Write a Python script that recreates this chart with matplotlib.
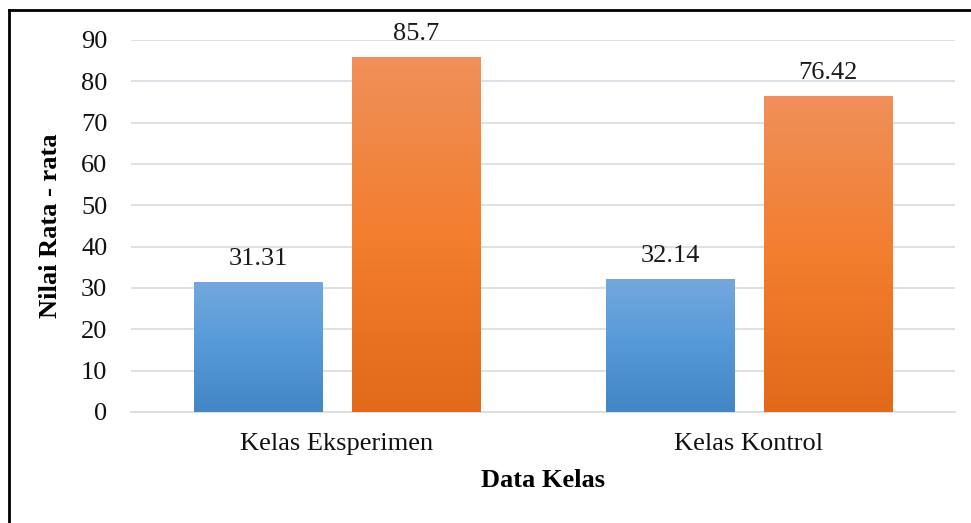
import numpy as np
import matplotlib
matplotlib.use("Agg")
import matplotlib.pyplot as plt
from matplotlib.colors import LinearSegmentedColormap
from matplotlib.lines import Line2D

categories = ["Kelas Eksperimen", "Kelas Kontrol"]
series_a = [31.31, 32.14]
series_b = [85.7, 76.42]
yticks = [0, 10, 20, 30, 40, 50, 60, 70, 80, 90]

plt.rcParams['font.family'] = ['Liberation Serif', 'DejaVu Serif']
FS = 19

fig = plt.figure(figsize=(9.71, 5.23), dpi=100)
ax = fig.add_axes([131/971, 1 - 412/523, (955-131)/971, (412-40)/523])

x = np.arange(len(categories))
w = 0.311
off = 0.192

blue_cmap = LinearSegmentedColormap.from_list("b", ["#4386C6", "#5599D9", "#74A8DD"])
orange_cmap = LinearSegmentedColormap.from_list("o", ["#E2691A", "#F37E2E", "#F0905A"])

grad = np.linspace(0, 1, 256).reshape(-1, 1)

def draw(xs, vals, cmap):
    bars = ax.bar(xs, vals, width=w, color="none", edgecolor="none", zorder=3)
    for b, v in zip(bars, vals):
        x0 = b.get_x()
        x1 = x0 + b.get_width()
        ax.imshow(grad, cmap=cmap, origin="lower", aspect="auto",
                  extent=[x0, x1, 0, v], zorder=3, interpolation="bicubic")
        ax.annotate(f"{v:g}", (b.get_x() + b.get_width()/2, v),
                    xytext=(0, 9), textcoords="offset points",
                    ha="center", va="bottom", fontsize=FS, color="#1a1a1a")

draw(x - off, series_a, blue_cmap)
draw(x + off, series_b, orange_cmap)

ax.set_xlim(-0.5, 1.5)
ax.set_ylim(0, 90)
ax.set_yticks(yticks)
ax.set_xticks(x)
ax.set_xticklabels(categories)
ax.grid(axis="y", color="#D9DEE6", linewidth=1.3, zorder=0)
ax.set_axisbelow(True)
for s in ["top", "right", "left"]:
    ax.spines[s].set_visible(False)
ax.spines["bottom"].set_color("#D9DEE6")
ax.spines["bottom"].set_linewidth(1.3)
ax.tick_params(axis="both", length=0, labelsize=FS, colors="#111111")
ax.tick_params(axis="y", pad=17)
ax.tick_params(axis="x", pad=15)
ax.set_ylabel("Nilai Rata - rata", fontsize=FS, fontweight="bold", labelpad=14)
ax.set_xlabel("Data Kelas", fontsize=FS, fontweight="bold", labelpad=10)

fig.add_artist(Line2D([9/971, 9/971], [0, 1 - 10/523], transform=fig.transFigure, color="black", linewidth=2))
fig.add_artist(Line2D([9/971, 1], [1 - 10/523, 1 - 10/523], transform=fig.transFigure, color="black", linewidth=2))

fig.savefig("out.png", dpi=100)
